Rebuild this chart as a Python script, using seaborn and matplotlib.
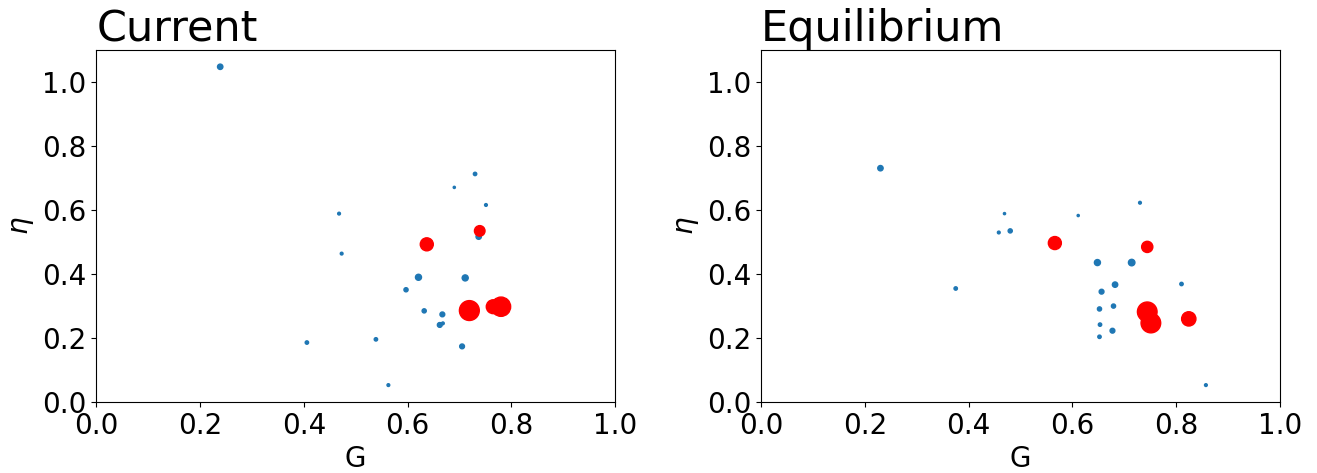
import numpy as np
import pandas as pd
import matplotlib
matplotlib.use('Agg')
import matplotlib.pyplot as plt
import seaborn as sns

# Current state
cur_blue_G = [0.239, 0.468, 0.473, 0.406, 0.539, 0.563, 0.597, 0.621, 0.632,
              0.667, 0.662, 0.668, 0.690, 0.730, 0.751, 0.737, 0.711, 0.705]
cur_blue_eta = [1.048, 0.589, 0.464, 0.186, 0.196, 0.053, 0.351, 0.390, 0.285,
                0.274, 0.241, 0.246, 0.671, 0.713, 0.616, 0.517, 0.388, 0.174]
cur_blue_s = [15, 4, 4, 6, 6, 4, 9, 19, 9,
              12, 12, 4, 2.5, 6, 4, 15, 19, 12]
cur_red_G = [0.637, 0.739, 0.719, 0.765, 0.780]
cur_red_eta = [0.493, 0.535, 0.286, 0.298, 0.298]
cur_red_s = [88, 58, 205, 100, 193]

# Equilibrium state
eq_blue_G = [0.230, 0.469, 0.458, 0.480, 0.375, 0.611, 0.730, 0.648, 0.714,
             0.682, 0.656, 0.810, 0.679, 0.652, 0.653, 0.677, 0.652, 0.857]
eq_blue_eta = [0.731, 0.589, 0.530, 0.535, 0.355, 0.583, 0.623, 0.436, 0.436,
               0.367, 0.345, 0.369, 0.300, 0.291, 0.242, 0.223, 0.204, 0.053]
eq_blue_s = [15, 2.5, 4, 9, 6, 2.5, 4, 19, 22,
             15, 12, 6, 9, 9, 6, 12, 6, 4]
eq_red_G = [0.566, 0.744, 0.744, 0.751, 0.824]
eq_red_eta = [0.497, 0.485, 0.282, 0.247, 0.260]
eq_red_s = [88, 65, 200, 200, 106]

panels = [('Current', cur_blue_G, cur_blue_eta, cur_blue_s, cur_red_G, cur_red_eta, cur_red_s),
          ('Equilibrium', eq_blue_G, eq_blue_eta, eq_blue_s, eq_red_G, eq_red_eta, eq_red_s)]

#%%
fig, axes = plt.subplots(1, 2, figsize=(13.17, 4.73), dpi=100)
fig.subplots_adjust(left=0.073, right=0.972, bottom=0.150, top=0.894, wspace=0.281)

for ax, (title, bG, beta, bs, rG, reta, rs) in zip(axes, panels):
    blue = pd.DataFrame({'G': bG, 'eta': beta, 's': bs})
    red = pd.DataFrame({'G': rG, 'eta': reta, 's': rs})
    sns.scatterplot(data=blue, x='G', y='eta', size='s',
                    sizes={v: v for v in blue['s'].unique()},
                    color='#1f77b4', edgecolor='face', linewidth=1,
                    legend=False, ax=ax)
    sns.scatterplot(data=red, x='G', y='eta', size='s',
                    sizes={v: v for v in red['s'].unique()},
                    color='red', edgecolor='face', linewidth=1,
                    legend=False, ax=ax)
    ax.set_xlim(0, 1)
    ax.set_ylim(0, 1.1)
    ax.set_xticks(np.arange(0, 1.01, 0.2))
    ax.set_yticks(np.arange(0, 1.01, 0.2))
    ax.tick_params(labelsize=20)
    ax.set_xlabel('G', fontsize=20)
    ax.set_ylabel(r'$\eta$', fontsize=20)
    ax.set_title(title, loc='left', fontsize=31)

plt.savefig('out.png')
